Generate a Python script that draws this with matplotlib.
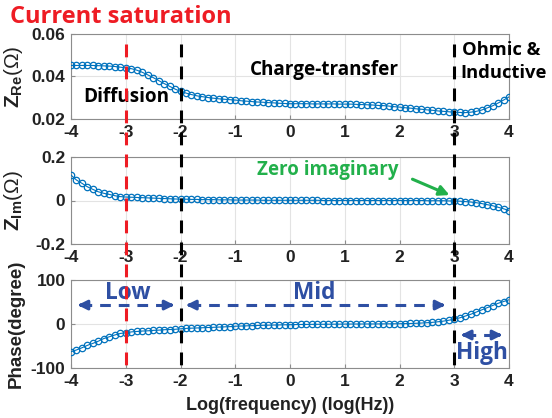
import matplotlib
matplotlib.use("Agg")
import matplotlib.pyplot as plt
from matplotlib.lines import Line2D
from matplotlib.transforms import blended_transform_factory

# ---------------- data ----------------
log_freq = [round(-4.0 + 0.1 * i, 1) for i in range(81)]

z_re = [
    0.0452, 0.0452, 0.0452, 0.0452, 0.0452, 0.0451, 0.0450, 0.0449, 0.0447, 0.0444,  # -4.0 .. -3.1
    0.0440, 0.0437, 0.0430, 0.0420, 0.0408, 0.0395, 0.0381, 0.0367, 0.0354, 0.0341,  # -3.0 .. -2.1
    0.0330, 0.0322, 0.0315, 0.0309, 0.0305, 0.0301, 0.0298, 0.0295, 0.0293, 0.0291,  # -2.0 .. -1.1
    0.0289, 0.0286, 0.0284, 0.0282, 0.0280, 0.0279, 0.0277, 0.0276, 0.0274, 0.0273,  # -1.0 .. -0.1
    0.0272, 0.0272, 0.0272, 0.0272, 0.0271, 0.0271, 0.0271, 0.0271, 0.0271, 0.0270,  # 0.0 .. 0.9
    0.0270, 0.0270, 0.0269, 0.0268, 0.0267, 0.0266, 0.0264, 0.0263, 0.0261, 0.0258,  # 1.0 .. 1.9
    0.0256, 0.0253, 0.0251, 0.0248, 0.0246, 0.0243, 0.0241, 0.0238, 0.0236, 0.0234,  # 2.0 .. 2.9
    0.0232, 0.0231, 0.0230, 0.0232, 0.0236, 0.0242, 0.0252, 0.0262, 0.0275, 0.0289,  # 3.0 .. 3.9
    0.0304,                                                                          # 4.0
]

z_im = [
    0.117, 0.094, 0.079, 0.063, 0.051, 0.040, 0.033, 0.028, 0.022, 0.018,  # -4.0 .. -3.1
    0.016, 0.015, 0.014, 0.013, 0.012, 0.011, 0.010, 0.009, 0.008, 0.007,  # -3.0 .. -2.1
    0.006, 0.006, 0.005, 0.005, 0.004, 0.004, 0.004, 0.003, 0.003, 0.003,  # -2.0 .. -1.1
    0.002, 0.002, 0.002, 0.002, 0.002, 0.001, 0.001, 0.001, 0.001, 0.001,  # -1.0 .. -0.1
    0.001, 0.001, 0.001, 0.001, 0.001, 0.001, 0.000, 0.000, 0.000, 0.000,  # 0.0 .. 0.9
    0.000, 0.000, 0.000, 0.000, 0.000, 0.000, 0.000, 0.000, 0.000, 0.000,  # 1.0 .. 1.9
    0.000, 0.000, 0.000, 0.000, 0.000, -0.001, -0.001, -0.001, -0.001, -0.002,  # 2.0 .. 2.9
    -0.002, -0.003, -0.005, -0.007, -0.010, -0.014, -0.019, -0.024, -0.031, -0.038,  # 3.0 .. 3.9
    -0.046,                                                                  # 4.0
]

phase = [
    -63.0, -59.0, -54.0, -48.5, -44.0, -39.0, -33.0, -29.0, -25.0, -21.5,  # -4.0 .. -3.1
    -20.0, -18.0, -17.0, -16.0, -15.5, -14.5, -14.0, -13.0, -12.5, -12.0,  # -3.0 .. -2.1
    -11.0, -10.0, -9.5, -9.0, -8.5, -8.0, -7.5, -7.0, -6.5, -6.0,          # -2.0 .. -1.1
    -5.0, -4.6, -4.2, -3.8, -3.4, -3.0, -2.7, -2.4, -2.1, -1.8,            # -1.0 .. -0.1
    -1.5, -1.3, -1.1, -1.0, -0.8, -0.7, -0.6, -0.5, -0.4, -0.3,            # 0.0 .. 0.9
    -0.2, -0.1, 0.0, 0.0, 0.1, 0.1, 0.2, 0.3, 0.4, 0.5,                    # 1.0 .. 1.9
    0.6, 0.9, 1.2, 1.6, 2.2, 2.9, 3.8, 5.0, 6.5, 8.5,                      # 2.0 .. 2.9
    11.0, 14.0, 18.0, 22.0, 27.0, 32.0, 37.0, 42.0, 47.0, 51.0,            # 3.0 .. 3.9
    55.0,                                                                  # 4.0
]

x_ticks = [-4, -3, -2, -1, 0, 1, 2, 3, 4]
re_ticks = [0.02, 0.04, 0.06]
re_ticklabels = ["0.02", "0.04", "0.06"]
im_ticks = [-0.2, 0, 0.2]
im_ticklabels = ["-0.2", "0", "0.2"]
ph_ticks = [-100, 0, 100]
ph_ticklabels = ["-100", "0", "100"]

saturation_x = -3
region_bounds = [-2, 3]

# ---------------- style ----------------
plt.rcParams["font.family"] = ["Liberation Sans", "DejaVu Sans"]
plt.rcParams["font.weight"] = "bold"
plt.rcParams["mathtext.fontset"] = "custom"
plt.rcParams["mathtext.rm"] = "Liberation Sans"
plt.rcParams["mathtext.bf"] = "Liberation Sans:bold"
plt.rcParams["mathtext.it"] = "Liberation Sans:italic"

W, H = 552, 418
fig = plt.figure(figsize=(W / 100, H / 100), dpi=100)
fig.patch.set_facecolor("white")

def px_axes(left, top, right, bottom):
    return fig.add_axes([left / W, 1 - bottom / H, (right - left) / W, (bottom - top) / H])

ax1 = px_axes(71, 34, 509, 119)
ax2 = px_axes(71, 157, 509, 244)
ax3 = px_axes(71, 280, 509, 368)

blue = "#0072BD"
tick_fs = 12.5

def style(ax, yvals, yticks, ylabels, ylim):
    ax.plot(log_freq, yvals, "-", color=blue, lw=0.8, zorder=3)
    ax.plot(log_freq, yvals, "o", ms=4.6, mfc="none", mec=blue, mew=0.9, zorder=4)
    ax.set_xlim(-4, 4)
    ax.set_ylim(*ylim)
    ax.set_xticks(x_ticks)
    ax.set_xticklabels([str(t) for t in x_ticks], fontsize=tick_fs, fontweight="bold", color="#222222")
    ax.set_yticks(yticks)
    ax.set_yticklabels(ylabels, fontsize=tick_fs, fontweight="bold", color="#222222")
    ax.grid(True, color="#e3e3e3", lw=0.8)
    ax.set_axisbelow(True)
    for s in ax.spines.values():
        s.set_color("#8c8c8c")
        s.set_linewidth(0.8)
    ax.tick_params(direction="in", length=3, color="#8c8c8c", pad=4, top=False, right=False)

style(ax1, z_re, re_ticks, re_ticklabels, (0.02, 0.06))
style(ax2, z_im, im_ticks, im_ticklabels, (-0.2, 0.2))
style(ax3, phase, ph_ticks, ph_ticklabels, (-100, 100))

ax1.set_ylabel(r"$\mathbf{Z_{Re}}$(Ω)", fontsize=15, color="#222222")
ax2.set_ylabel(r"$\mathbf{Z_{Im}}$(Ω)", fontsize=15, color="#222222")
ax3.set_ylabel("Phase(degree)", fontsize=13.5, fontweight="bold", color="#222222")
for ax in (ax1, ax2, ax3):
    ax.yaxis.set_label_coords(-0.105, 0.5)
ax3.set_xlabel("Log(frequency) (log(Hz))", fontsize=13, fontweight="bold", labelpad=6,
               color="#222222")

# ---------------- vertical boundary lines ----------------
tr = blended_transform_factory(ax3.transData, fig.transFigure)
y_top = 1 - 44 / H
y_bot = 1 - 368 / H
lw_v = 2.2
fig.add_artist(Line2D([saturation_x, saturation_x], [y_top, y_bot], transform=tr,
                      color="#ee1c24", lw=lw_v, ls=(0, (4.2, 3.0)), zorder=10))
for xb in region_bounds:
    fig.add_artist(Line2D([xb, xb], [y_top, y_bot], transform=tr,
                          color="black", lw=lw_v, ls=(0, (4.2, 3.0)), zorder=10))

# ---------------- text annotations ----------------
ann_font = ["Open Sans", "DejaVu Sans"]
lab_fs = 13.6
fig.text(10 / W, 1 - 23 / H, "Current saturation", color="#ee1c24", fontsize=17,
         fontweight="bold", family=ann_font, va="baseline", ha="left")
ax1.text(-0.73, 0.0431, "Charge-transfer", fontsize=lab_fs, fontweight="bold", family=ann_font,
         va="center", ha="left", color="black")
ax1.text(-3.78, 0.0304, "Diffusion", fontsize=lab_fs, fontweight="bold", family=ann_font,
         va="center", ha="left", color="black", zorder=6)
ax1.text(3.14, 0.0525, "Ohmic &", fontsize=13.2, fontweight="bold", family=ann_font,
         va="center", ha="left", color="black", clip_on=False)
ax1.text(3.11, 0.0415, "Inductive", fontsize=13.2, fontweight="bold", family=ann_font,
         va="center", ha="left", color="black", clip_on=False)

green = "#22b04b"
ax2.text(-0.6, 0.139, "Zero imaginary", fontsize=13.5, fontweight="bold", family=ann_font,
         va="center", ha="left", color=green)
ax2.annotate("", xy=(2.96, 0.02), xytext=(2.19, 0.103),
             arrowprops=dict(arrowstyle="-|>", color=green, lw=2.2, mutation_scale=15))

# Low / Mid / High band arrows in phase panel
band_blue = "#2e4fa3"
def band_arrow(ax, x0, x1, y):
    ax.plot([x0 + 0.12, x1 - 0.12], [y, y], color=band_blue, lw=2.2, ls=(0, (3.5, 2.6)), zorder=5)
    ax.annotate("", xy=(x0, y), xytext=(x0 + 0.2, y),
                arrowprops=dict(arrowstyle="-|>", color=band_blue, lw=2.2, mutation_scale=14))
    ax.annotate("", xy=(x1, y), xytext=(x1 - 0.2, y),
                arrowprops=dict(arrowstyle="-|>", color=band_blue, lw=2.2, mutation_scale=14))

band_arrow(ax3, -3.93, -2.06, 43)
band_arrow(ax3, -1.95, 2.89, 43)
band_arrow(ax3, 3.07, 3.93, -25)
band_fs = 16.3
ax3.text(-2.96, 70, "Low", fontsize=band_fs, fontweight="bold", family=ann_font, color=band_blue,
         ha="center", va="center")
ax3.text(0.44, 70, "Mid", fontsize=band_fs, fontweight="bold", family=ann_font, color=band_blue,
         ha="center", va="center")
ax3.text(3.5, -66, "High", fontsize=band_fs, fontweight="bold", family=ann_font, color=band_blue,
         ha="center", va="center")

fig.savefig("out.png", dpi=100, facecolor="white")
